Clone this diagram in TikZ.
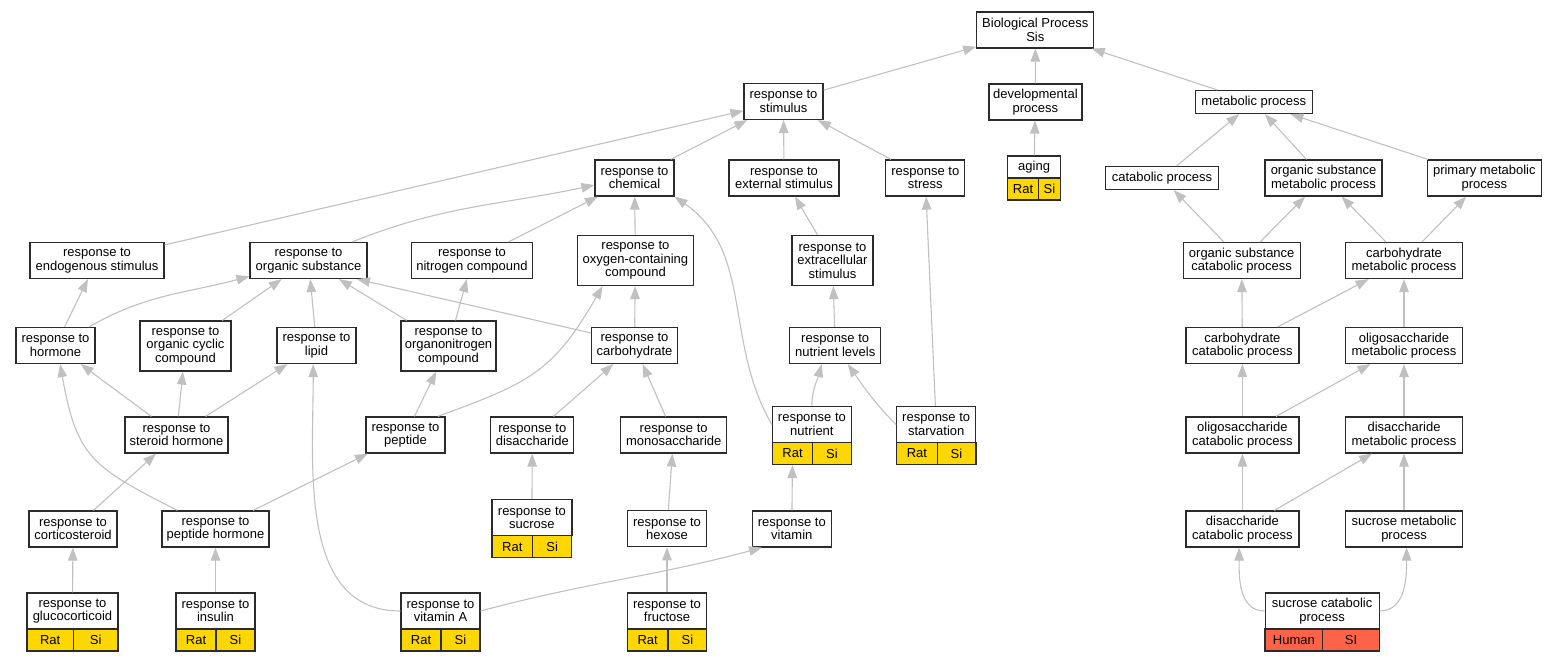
\documentclass[tikz,border=0pt]{standalone}
\usepackage{fontspec}
\setmainfont{Liberation Sans}
\usetikzlibrary{arrows.meta}
\definecolor{edgegray}{HTML}{C0C0C0}
\definecolor{boxline}{HTML}{2B2B2B}
\definecolor{ratgold}{HTML}{FFD700}
\definecolor{humanred}{HTML}{FF6347}

\begin{document}
\begin{tikzpicture}[x=1pt, y=-1pt,
    term/.style={draw=boxline, line width=1.2pt, fill=white, inner sep=0pt, align=center,
        minimum height=36pt, font=\fontsize{13}{13.5}\selectfont},
    ratcell/.style={term, fill=ratgold, minimum height=22pt},
    humancell/.style={term, fill=humanred, minimum height=22pt}]
            \useasboundingbox (0,0) rectangle (1555,661);

            \draw (1035.3,30) node[term, minimum width=117](bp){Biological Process\\Sis};
            \draw (783.5,101.5) node[term, minimum width=79](stim){response to\\stimulus};
            \draw (1035.4,102) node[term, minimum width=93](devel){developmental\\process};
            \draw (1253.8,102) node[term, minimum width=117, minimum height=23](metab){metabolic process};
            \draw (1034.1,167) node[term, minimum width=53, minimum height=22](aging){aging};
            \draw (1023.1,189) node[ratcell, minimum width=30.6](aging-rat){Rat};
            \draw (1049.5,189) node[ratcell, minimum width=22.1](aging-si){Si};
            \draw (634.5,178) node[term, minimum width=79](chem){response to\\chemical};
            \draw (784,178) node[term, minimum width=110](ext){response to\\external stimulus};
            \draw (925.3,178) node[term, minimum width=79](stress){response to\\stress};
            \draw (1162,178) node[term, minimum width=113, minimum height=23](catab){catabolic process};
            \draw (1323.5,178) node[term, minimum width=117](osmetab){organic substance\\metabolic process};
            \draw (1484.3,178) node[term, minimum width=114](primary){primary metabolic\\process};
            \draw (97,260.5) node[term, minimum width=134](endo){response to\\endogenous stimulus};
            \draw (308.5,260.5) node[term, minimum width=117](orgsub){response to\\organic substance};
            \draw (472,260.5) node[term, minimum width=121](nitro){response to\\nitrogen compound};
            \draw (635.4,260.5) node[term, minimum width=116, minimum height=50](oxy){response to\\oxygen-containing\\compound};
            \draw (832.5,260.5) node[term, minimum width=81, minimum height=50](extra){response to\\extracellular\\stimulus};
            \draw (1241.7,260.5) node[term, minimum width=117](oscatab){organic substance\\catabolic process};
            \draw (1404,260.5) node[term, minimum width=117](carbmetab){carbohydrate\\metabolic process};
            \draw (55.5,345.5) node[term, minimum width=79](hormone){response to\\hormone};
            \draw (185.5,346) node[term, minimum width=91, minimum height=50](cyclic){response to\\organic cyclic\\compound};
            \draw (316.5,345.5) node[term, minimum width=79](lipid){response to\\lipid};
            \draw (448.5,346) node[term, minimum width=95, minimum height=50](orgnitro){response to\\organonitrogen\\compound};
            \draw (634.5,345.5) node[term, minimum width=86](carb){response to\\carbohydrate};
            \draw (835.2,345.5) node[term, minimum width=91](nutlev){response to\\nutrient levels};
            \draw (1242.4,345.5) node[term, minimum width=113](carbcatab){carbohydrate\\catabolic process};
            \draw (1404,345.5) node[term, minimum width=117](oligometab){oligosaccharide\\metabolic process};
            \draw (176.5,435) node[term, minimum width=103](steroid){response to\\steroid hormone};
            \draw (405.5,435) node[term, minimum width=79](peptide){response to\\peptide};
            \draw (532.3,435) node[term, minimum width=83](disacc){response to\\disaccharide};
            \draw (673.7,435) node[term, minimum width=106](mono){response to\\monosaccharide};
            \draw (811.9,424.5) node[term, minimum width=79](nutrient){response to\\nutrient};
            \draw (792.5,453.5) node[ratcell, minimum width=40.2](nutrient-rat){Rat};
            \draw (832,453.5) node[ratcell, minimum width=38.8](nutrient-si){Si};
            \draw (936.2,424.5) node[term, minimum width=79](starv){response to\\starvation};
            \draw (916.9,453.5) node[ratcell, minimum width=40.5](starv-rat){Rat};
            \draw (956.5,453.5) node[ratcell, minimum width=38.8](starv-si){Si};
            \draw (1242.4,435) node[term, minimum width=113](oligocatab){oligosaccharide\\catabolic process};
            \draw (1404,435) node[term, minimum width=117](disaccmetab){disaccharide\\metabolic process};
            \draw (73,529) node[term, minimum width=88](cortico){response to\\corticosteroid};
            \draw (215.5,529) node[term, minimum width=107](pephorm){response to\\peptide hormone};
            \draw (531.9,517.7) node[term, minimum width=80](sucrose){response to\\sucrose};
            \draw (512.3,546.7) node[ratcell, minimum width=40.6](sucrose-rat){Rat};
            \draw (552.2,546.7) node[ratcell, minimum width=39.1](sucrose-si){Si};
            \draw (667,528.7) node[term, minimum width=79](hexose){response to\\hexose};
            \draw (791.8,529) node[term, minimum width=79](vitamin){response to\\vitamin};
            \draw (1242.4,529) node[term, minimum width=113](disacccatab){disaccharide\\catabolic process};
            \draw (1404,529) node[term, minimum width=117](sucmetab){sucrose metabolic\\process};
            \draw (72.5,611) node[term, minimum width=91](gluco){response to\\glucocorticoid};
            \draw (50.2,640) node[ratcell, minimum width=46.3](gluco-rat){Rat};
            \draw (95.7,640) node[ratcell, minimum width=44.7](gluco-si){Si};
            \draw (215.5,611) node[term, minimum width=79](insulin){response to\\insulin};
            \draw (196,640) node[ratcell, minimum width=40](insulin-rat){Rat};
            \draw (235.5,640) node[ratcell, minimum width=39](insulin-si){Si};
            \draw (440.5,611) node[term, minimum width=79](vita){response to\\vitamin A};
            \draw (421,640) node[ratcell, minimum width=40](vita-rat){Rat};
            \draw (460.5,640) node[ratcell, minimum width=39](vita-si){Si};
            \draw (667,611) node[term, minimum width=79](fructose){response to\\fructose};
            \draw (647.7,640) node[ratcell, minimum width=40.6](fructose-rat){Rat};
            \draw (687.4,640) node[ratcell, minimum width=38.7](fructose-si){Si};
            \draw (1322.1,611) node[term, minimum width=114](succatab){sucrose catabolic\\process};
            \draw (1293.9,640) node[humancell, minimum width=57.7](succatab-human){Human};
            \draw (1351,640) node[humancell, minimum width=56.5](succatab-si){SI};

            \begin{scope}[edgegray, line width=1.1pt, -{Triangle[length=13pt, width=9.5pt]}]
                \path (stim) edge (bp);
                \path (devel) edge (bp);
                \path (metab) edge (bp);
                \path (aging) edge (devel);
                \path (endo) edge (stim);
                \path (chem) edge (stim);
                \path (ext) edge (stim);
                \path (stress) edge (stim);
                \path (catab) edge (metab);
                \path (osmetab) edge (metab);
                \path (primary) edge (metab);
                \path (nitro) edge (chem);
                \path (oxy) edge (chem);
                \path (extra) edge (ext);
                \path (starv) edge (stress);
                \path (oscatab) edge (catab);
                \path (oscatab) edge (osmetab);
                \path (carbmetab) edge (osmetab);
                \path (carbmetab) edge (primary);
                \path (hormone) edge (endo);
                \path (cyclic) edge (orgsub);
                \path (lipid) edge (orgsub);
                \path (orgnitro) edge (orgsub);
                \path (carb.164) edge (orgsub.-21);
                \path (orgnitro) edge (nitro);
                \path (carb) edge (oxy);
                \path (nutlev) edge (extra);
                \path (carbcatab) edge (oscatab);
                \path (carbcatab) edge (carbmetab);
                \path (oligometab) edge (carbmetab);
                \path (steroid) edge (hormone);
                \path (steroid) edge (cyclic);
                \path (steroid) edge (lipid);
                \path (peptide) edge (orgnitro);
                \path (disacc) edge (carb);
                \path (mono) edge (carb);
                \path (oligocatab) edge (carbcatab);
                \path (oligocatab) edge (oligometab);
                \path (disaccmetab) edge (oligometab);
                \path (cortico) edge (steroid);
                \path (pephorm) edge (peptide);
                \path (sucrose) edge (disacc);
                \path (hexose) edge (mono);
                \path (vitamin) edge (nutrient-rat);
                \path (disacccatab) edge (oligocatab);
                \path (disacccatab) edge (disaccmetab);
                \path (sucmetab) edge (disaccmetab);
                \path (gluco) edge (cortico);
                \path (insulin) edge (pephorm);
                \path (fructose) edge (hexose);
            \end{scope}

            \begin{scope}[edgegray, line width=1.1pt, -{Triangle[length=13pt, width=9.5pt]}]
                \path (orgsub.23) edge[out=22, in=192] (chem.190);
                \path (nutrient.west) edge[out=120, in=-35] (chem.south east);
                \path (hormone.29) edge[out=30, in=195] (orgsub.195);
                \path (peptide.30) edge[out=20, in=240, looseness=1.2] (oxy.218);
                \path (nutrient.north) edge[out=90, in=-105] (nutlev.-126);
                \path (starv.west) edge[out=135, in=-55] (nutlev.-56);
                \path (pephorm.154) edge[out=153, in=-80, looseness=1.3] (hormone.-76);
                \path (vita.west) edge[out=180, in=-90] (lipid.-100);
                \path (vita.east) edge[out=15, in=195] (vitamin.212);
                \path (succatab.west) edge[out=180, in=-90] (disacccatab.-100);
                \path (succatab.east) edge[out=0, in=-90] (sucmetab.-82);
            \end{scope}
        \end{tikzpicture}
\end{document}
